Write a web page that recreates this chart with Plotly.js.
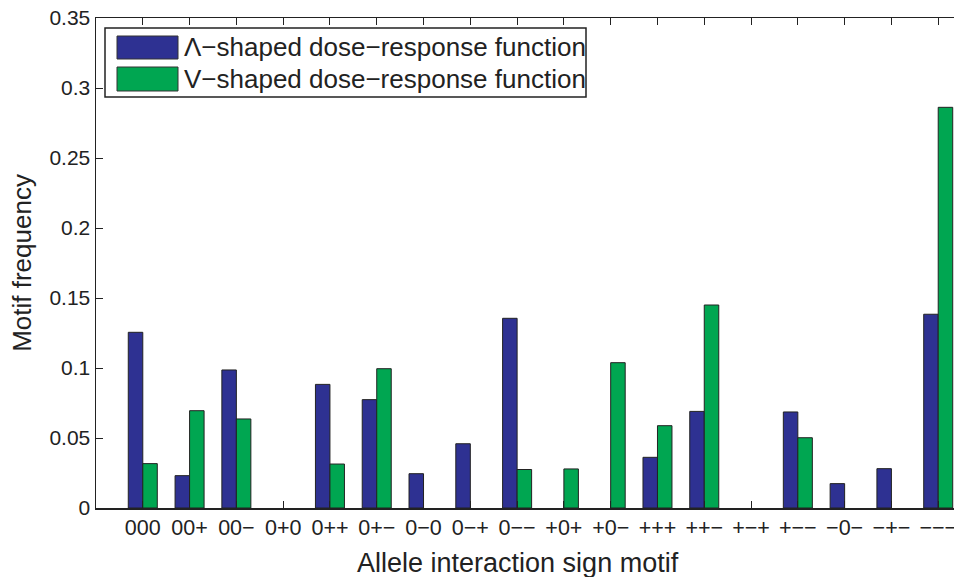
<!DOCTYPE html>
<html>
<head>
<meta charset="utf-8">
<script src="https://cdn.plot.ly/plotly-3.0.1.min.js"></script>
<style>
  html, body { margin: 0; padding: 0; overflow: hidden; background: #fff; }
  #chart { width: 990px; height: 577px; }
</style>
</head>
<body>
<div id="chart"></div>
<script>
// Data
const motifs = ["000","00+","00\u2212","0+0","0++","0+\u2212","0\u22120","0\u2212+","0\u2212\u2212",
  "+0+","+0\u2212","+++","++\u2212","+\u2212+","+\u2212\u2212","\u22120\u2212","\u2212+\u2212","\u2212\u2212\u2212"];
const seriesNames = ["\u039b\u2212shaped dose\u2212response function", "V\u2212shaped dose\u2212response function"];
const lambdaShaped = [0.1255, 0.0231, 0.0986, 0, 0.0883, 0.0774, 0.0245, 0.0459, 0.1355,
  0, 0, 0.0362, 0.0690, 0, 0.0686, 0.0174, 0.0281, 0.1384];
const vShaped = [0.0317, 0.0695, 0.0636, 0, 0.0314, 0.0995, 0, 0, 0.0275,
  0.0279, 0.1038, 0.0588, 0.1450, 0, 0.0502, 0, 0, 0.2862];
const yTicks = [0, 0.05, 0.1, 0.15, 0.2, 0.25, 0.3, 0.35];
const yTickText = ["0", "0.05", "0.1", "0.15", "0.2", "0.25", "0.3", "0.35"];
const xTitle = "Allele interaction sign motif";
const yTitle = "Motif frequency";
const colors = ["#2e3192", "#00a651"];

const font = "Liberation Sans, Arial, Helvetica, sans-serif";
const idx = motifs.map((_, i) => i);

const traces = [lambdaShaped, vShaped].map((vals, k) => ({
  type: "bar",
  x: idx,
  y: vals,
  name: seriesNames[k],
  marker: { color: colors[k], line: { color: "#222", width: vals.map(v => v > 0 ? 1 : 0) } },
  hoverinfo: "y"
}));

// Legend drawn as a MATLAB-style box (pixel positions converted to paper)
const L = 96, W = 889, T = 18, H = 490;
const px = v => (v - L) / W;
const py = v => (T + H - v) / H;
const shapes = [
  { type: "rect", xref: "paper", yref: "paper", x0: px(105), x1: px(586), y0: py(97), y1: py(28),
    line: { color: "#222", width: 1.5 }, fillcolor: "#fff", layer: "above" },
  { type: "rect", xref: "paper", yref: "paper", x0: px(117), x1: px(178), y0: py(59), y1: py(36),
    line: { color: "#333", width: 1 }, fillcolor: colors[0], layer: "above" },
  { type: "rect", xref: "paper", yref: "paper", x0: px(117), x1: px(178), y0: py(91), y1: py(67),
    line: { color: "#333", width: 1 }, fillcolor: colors[1], layer: "above" }
];
const annotations = [
  { xref: "paper", yref: "paper", x: px(182), y: py(47.5), xanchor: "left", yanchor: "middle",
    text: seriesNames[0], showarrow: false, font: { family: font, size: 26, color: "#222" } },
  { xref: "paper", yref: "paper", x: px(182), y: py(79.5), xanchor: "left", yanchor: "middle",
    text: seriesNames[1], showarrow: false, font: { family: font, size: 26, color: "#222" } },
  { xref: "paper", yref: "paper", x: px(518), y: py(563), xanchor: "center", yanchor: "middle",
    text: xTitle, showarrow: false, font: { family: font, size: 27, color: "#222" } }
];

const layout = {
  width: 990, height: 577,
  margin: { l: L, r: 990 - L - W, t: T, b: 577 - T - H },
  paper_bgcolor: "#fff", plot_bgcolor: "#fff",
  barmode: "group", bargap: 0.38, bargroupgap: 0,
  showlegend: false,
  font: { family: font, color: "#222" },
  xaxis: {
    range: [-1, 18],
    tickmode: "array", tickvals: idx, ticktext: motifs,
    ticks: "inside", ticklen: 7, tickwidth: 1, tickcolor: "#222",
    showline: true, linecolor: "#222", linewidth: 1.5, mirror: "ticks",
    showgrid: false, zeroline: false,
    tickfont: { family: font, size: 21.5, color: "#222" }
  },
  yaxis: {
    range: [0, 0.35],
    tickmode: "array", tickvals: yTicks, ticktext: yTickText,
    ticks: "inside", ticklen: 7, tickwidth: 1, tickcolor: "#222",
    showline: true, linecolor: "#222", linewidth: 1.5, mirror: "ticks",
    showgrid: false, zeroline: false,
    tickfont: { family: font, size: 21, color: "#222" },
    title: { text: yTitle, font: { family: font, size: 26, color: "#222" }, standoff: 10 }
  },
  shapes: shapes,
  annotations: annotations
};

Plotly.newPlot("chart", traces, layout, { displayModeBar: false, staticPlot: true });
</script>
</body>
</html>
